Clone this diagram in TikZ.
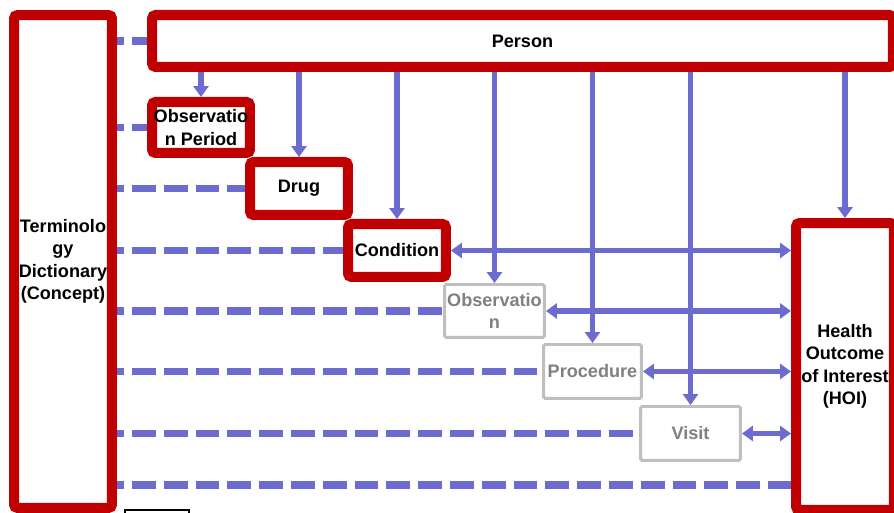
\documentclass[tikz,border=0pt]{standalone}
\usepackage{fontspec}
\setmainfont{Liberation Sans}
\usepackage{xcolor}
\usepackage{tikz}
\usetikzlibrary{arrows.meta, calc, positioning}

\definecolor{boxred}{RGB}{192,0,0}
\definecolor{linkblue}{RGB}{107,107,208}
\definecolor{softgray}{RGB}{191,191,191}
\definecolor{textgray}{RGB}{128,128,128}

\begin{document}
\begin{tikzpicture}[x=0.02cm, y=-0.02cm,
    font=\fontsize{10.3}{12.8}\selectfont\bfseries,
    redbox/.style={draw=boxred, line width=5.7pt, fill=white, rounded corners=2pt,
                   align=center, inner sep=0pt},
    graybox/.style={draw=softgray, line width=1.7pt, fill=white, rounded corners=1pt,
                    align=center, inner sep=0pt, text=textgray},
    link/.style={draw=linkblue, line width=3.4pt, -{Triangle[length=6.2pt,width=8.5pt]}},
    both/.style={link, {Triangle[length=6.2pt,width=8.5pt]}-{Triangle[length=6.2pt,width=8.5pt]}},
    dictlink/.style={draw=linkblue, line width=4pt, dash pattern=on 13.6pt off 4.5pt, dash phase=9.6pt}]

    % =================================================================
    % 1. PAGE FRAME (the slide is cut on the right and at the bottom)
    % =================================================================
    \useasboundingbox (0,0) rectangle (894,513);
    \clip (0,0) rectangle (894,513);

    % =================================================================
    % 2. TABLES (boxes)
    % =================================================================
    \node[redbox, minimum width=1.96cm, minimum height=9.86cm] (dict) at (63,261.5)
        {Terminolo\\gy\\Dictionary\\(Concept)};
    \node[redbox, minimum width=14.82cm, minimum height=1.04cm] (person) at (522.5,41) {Person};
    \node[redbox, minimum width=1.96cm, minimum height=1.02cm] (obsper) at (201,127.5)
        {Observatio\\n Period};
    \node[redbox, minimum width=1.96cm, minimum height=1.06cm] (drug) at (299,188.5) {Drug};
    \node[redbox, minimum width=1.96cm, minimum height=1.06cm] (cond) at (397,250.5) {Condition};
    \node[graybox, minimum width=2.0cm, minimum height=1.06cm] (obs) at (494.5,311)
        {Observatio\\n};
    \node[graybox, minimum width=1.96cm, minimum height=1.08cm] (proc) at (592.5,371.5) {Procedure};
    \node[graybox, minimum width=2.0cm, minimum height=1.08cm] (visit) at (690.5,433.5) {Visit};
    \node[redbox, minimum width=1.96cm, minimum height=5.74cm] (hoi) at (845,366.5)
        {Health\\Outcome\\of Interest\\(HOI)};

    % row of the last dashed link
    \coordinate (hoirow) at (0,485);

    % =================================================================
    % 3. LINKS FROM THE DICTIONARY (dashed)
    % =================================================================
    \draw[dictlink] (dict.east |- person.west) -- (person.west);
    \draw[dictlink] (dict.east |- obsper.west) -- (obsper.west);
    \draw[dictlink] (dict.east |- drug.west) -- (drug.west);
    \draw[dictlink] (dict.east |- cond.west) -- (cond.west);
    \draw[dictlink] (dict.east |- obs.west) -- (obs.west);
    \draw[dictlink] (dict.east |- proc.west) -- (proc.west);
    \draw[dictlink] (dict.east |- visit.west) -- (visit.west);
    \draw[dictlink] (dict.east |- hoirow) -- (hoi.west |- hoirow);

    % =================================================================
    % 4. LINKS FROM PERSON (down)
    % =================================================================
    \draw[link] (person.south -| obsper.north) -- (obsper.north);
    \draw[link] (person.south -| drug.north) -- (drug.north);
    \draw[link] (person.south -| cond.north) -- (cond.north);
    \draw[link] (person.south -| obs.north) -- (obs.north);
    \draw[link] (person.south -| proc.north) -- (proc.north);
    \draw[link] (person.south -| visit.north) -- (visit.north);
    \draw[link] (person.south -| hoi.north) -- (hoi.north);

    % =================================================================
    % 5. LINKS TO THE HEALTH OUTCOME (both ways)
    % =================================================================
    \draw[both] (cond.east) -- (cond.east -| hoi.west);
    \draw[both] (obs.east) -- (obs.east -| hoi.west);
    \draw[both] (proc.east) -- (proc.east -| hoi.west);
    \draw[both] (visit.east) -- (visit.east -| hoi.west);

    % small box cut off at the bottom
    \draw[line width=0.6pt] (125,510) rectangle (189,525);

\end{tikzpicture}
\end{document}
